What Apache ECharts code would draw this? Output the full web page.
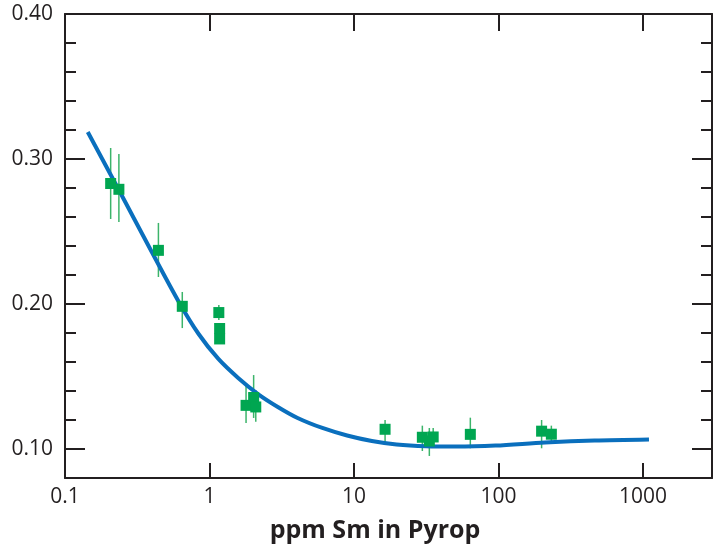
<!DOCTYPE html>
<html>
<head>
<meta charset="utf-8">
<script src="https://cdn.jsdelivr.net/npm/echarts@6/dist/echarts.min.js"></script>
<style>
html,body{margin:0;padding:0;background:#fff;}
#chart{width:715px;height:547px;}
</style>
</head>
<body>
<div id="chart"></div>
<script>
// ---- data ----
var smX      = [0.207, 0.236, 0.443, 0.648, 1.16, 1.175, 1.175, 1.79, 2.02, 2.09, 16.4, 29.7, 33.2, 35.3, 63.8, 198.6, 232];
var smY      = [0.2831, 0.2791, 0.2370, 0.1984, 0.1941, 0.1831, 0.1759, 0.1301, 0.1355, 0.1290, 0.1136, 0.1081, 0.1055, 0.1083, 0.1101, 0.1123, 0.1102];
var errLow   = [0.2586, 0.2566, 0.2186, 0.1834, 0.1890, 0.1800, 0.1730, 0.1179, 0.1214, 0.1188, 0.1041, 0.0986, 0.0952, 0.1014, 0.1005, 0.1005, 0.1043];
var errHigh  = [0.3076, 0.3034, 0.2559, 0.2083, 0.1993, 0.1860, 0.1790, 0.1455, 0.1510, 0.1407, 0.1200, 0.1161, 0.1145, 0.1145, 0.1216, 0.1200, 0.1161];

var fitX = [0.1437, 0.2380, 0.3821, 0.6134, 0.8408, 1.152, 1.579, 2.166, 2.970, 4.07, 6.036, 8.958, 13.29, 19.70, 31.62, 50.76, 95.4, 209.8, 461.7, 1099];
var fitY = [0.3186, 0.2779, 0.2393, 0.2014, 0.1793, 0.1621, 0.1490, 0.1379, 0.1290, 0.1214, 0.1145, 0.1093, 0.1055, 0.1031, 0.1019, 0.1017, 0.1024, 0.1045, 0.1059, 0.1066];

var xTickValues = [0.1, 1, 10, 100, 1000];
var xTickLabels = ['0.1', '1', '10', '100', '1000'];
var yMajorTicks = [0.10, 0.20, 0.30, 0.40];
var yMinorTicks = [0.12, 0.14, 0.16, 0.18, 0.22, 0.24, 0.26, 0.28, 0.32, 0.34, 0.36, 0.38];
var xTitle = 'ppm Sm in Pyrop';

// ---- chart ----
var ink = '#231f20';
var font = 'Open Sans';
var chart = echarts.init(document.getElementById('chart'), null, {renderer: 'canvas'});

function xLabel(v) {
  for (var i = 0; i < xTickValues.length; i++) {
    if (Math.abs(Math.log10(v) - Math.log10(xTickValues[i])) < 1e-6) return xTickLabels[i];
  }
  return '';
}

var pts = smX.map(function (x, i) { return [x, smY[i]]; });
var errs = smX.map(function (x, i) { return [x, errLow[i], errHigh[i]]; });
var fit = fitX.map(function (x, i) { return [x, fitY[i]]; });

var yBase = {type: 'value', min: 0.08, max: 0.40, splitLine: {show: false}};
function yAx(pos, ticks, len, showLine, showLabel) {
  return Object.assign({}, yBase, {
    position: pos,
    axisLine: {show: showLine, lineStyle: {color: ink, width: 2}},
    axisTick: {show: true, inside: true, length: len, customValues: ticks, lineStyle: {color: ink, width: 2}},
    axisLabel: {show: showLabel, customValues: yMajorTicks, margin: 12, color: ink,
      fontFamily: font, fontSize: 21, formatter: function (v) { return v.toFixed(2); }}
  });
}

var xBase = {type: 'log', logBase: 10, min: 0.1, max: 3000, splitLine: {show: false}, minorTick: {show: false}};

chart.setOption({
  animation: false,
  backgroundColor: '#fff',
  grid: {left: 65, top: 14, right: -4, bottom: 69, containLabel: false},
  xAxis: [
    Object.assign({}, xBase, {
      position: 'bottom',
      axisLine: {show: true, lineStyle: {color: ink, width: 2}},
      axisTick: {show: true, inside: true, length: 15, lineStyle: {color: ink, width: 2}},
      axisLabel: {show: true, margin: 9, color: ink, fontFamily: font, fontSize: 21, formatter: xLabel}
    }),
    Object.assign({}, xBase, {
      position: 'top',
      axisLine: {show: true, lineStyle: {color: ink, width: 2}},
      axisTick: {show: true, inside: true, length: 17, lineStyle: {color: ink, width: 2}},
      axisLabel: {show: false}
    })
  ],
  yAxis: [
    yAx('left', yMajorTicks, 20, true, true),
    yAx('left', yMinorTicks, 11, false, false),
    yAx('right', yMajorTicks, 20, true, false),
    yAx('right', yMinorTicks, 11, false, false)
  ],
  graphic: [{
    type: 'text', x: 375, y: 531,
    style: {text: xTitle, fill: ink, font: 'bold 25px "Open Sans"', align: 'center', verticalAlign: 'middle'}
  }],
  series: [
    {
      type: 'custom', xAxisIndex: 0, yAxisIndex: 0, z: 2,
      data: errs,
      encode: {x: 0, y: [1, 2]},
      renderItem: function (params, api) {
        var a = api.coord([api.value(0), api.value(1)]);
        var b = api.coord([api.value(0), api.value(2)]);
        return {type: 'line', shape: {x1: a[0], y1: a[1], x2: b[0], y2: b[1]},
          style: {stroke: '#3cb46a', lineWidth: 1.5}};
      }
    },
    {
      type: 'line', xAxisIndex: 0, yAxisIndex: 0, z: 3,
      data: fit, smooth: 0.3, showSymbol: false,
      lineStyle: {color: '#0a6fbd', width: 4}
    },
    {
      type: 'scatter', xAxisIndex: 0, yAxisIndex: 0, z: 4,
      data: pts, symbol: 'rect', symbolSize: 11,
      itemStyle: {color: '#00a651', opacity: 1}
    }
  ]
});
</script>
</body>
</html>
